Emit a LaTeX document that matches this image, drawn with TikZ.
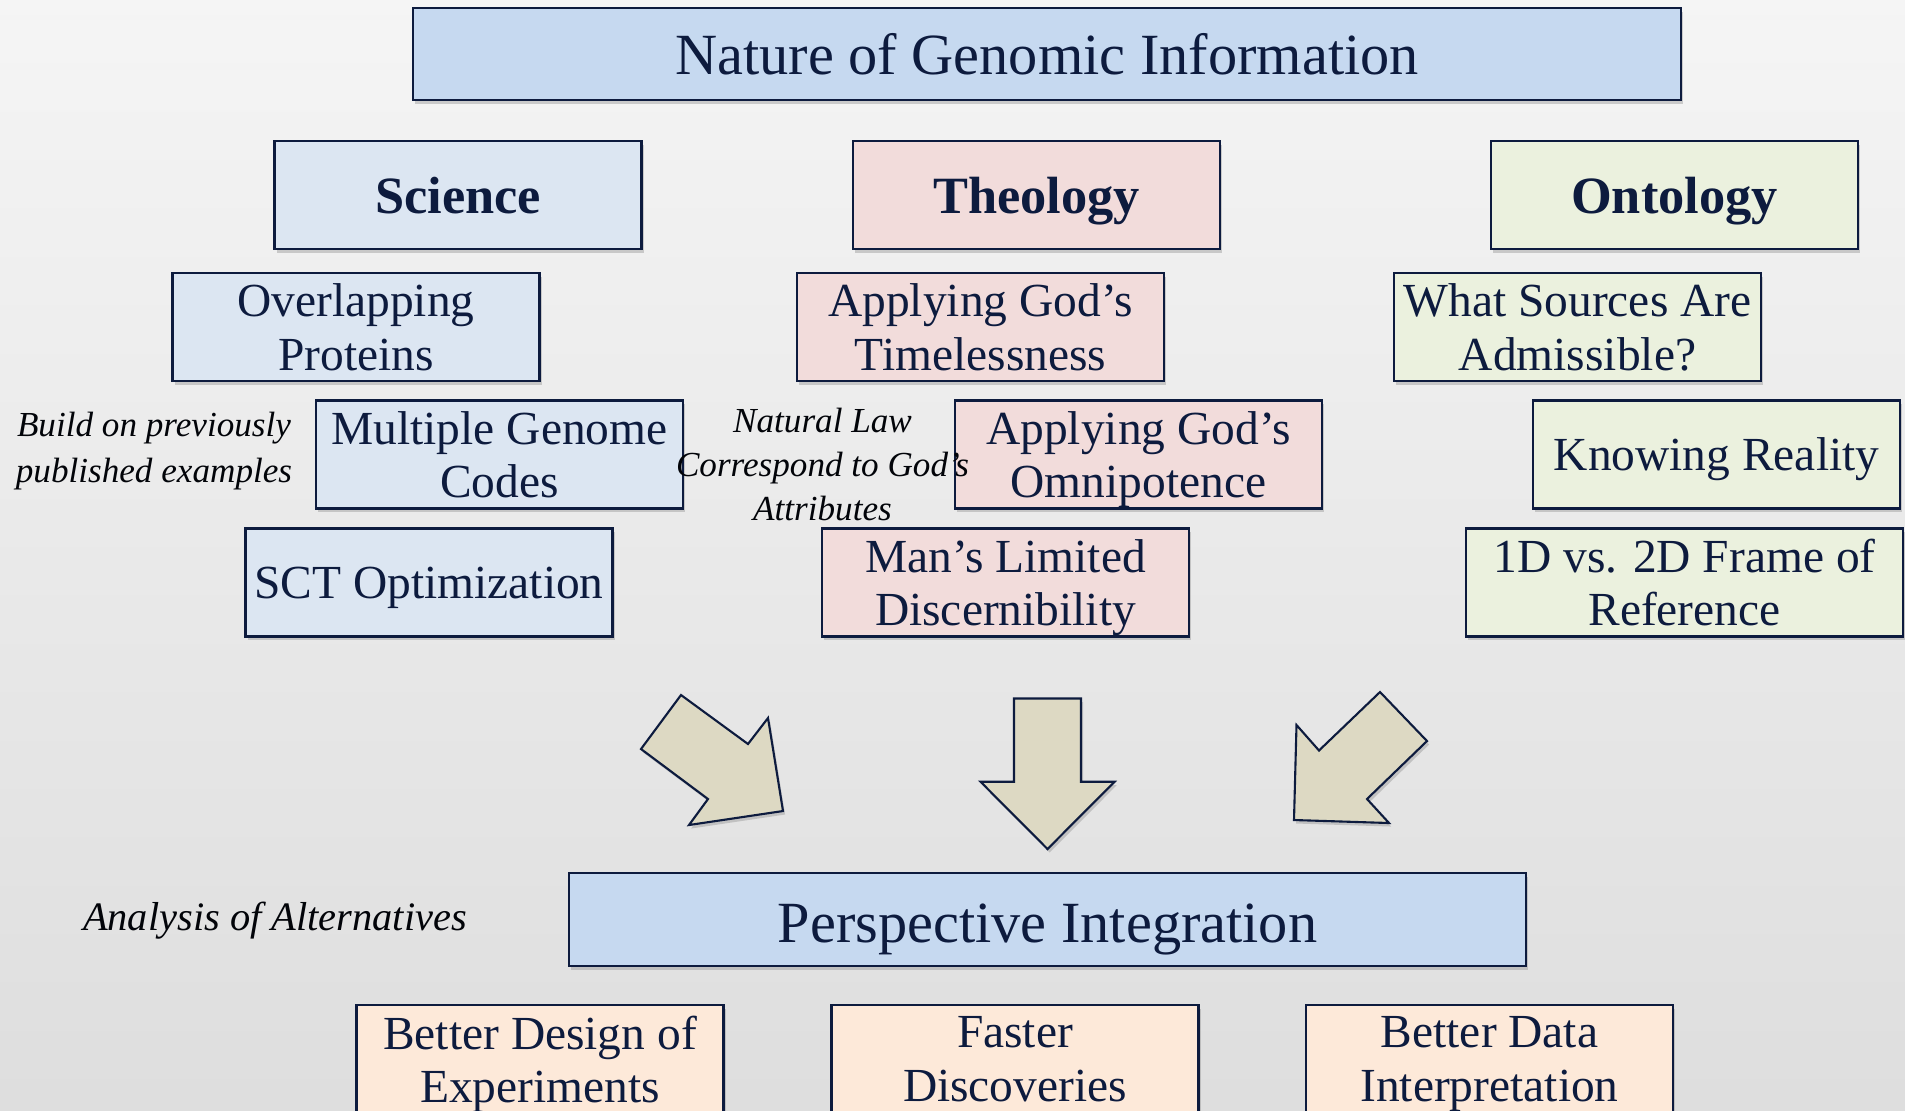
\documentclass[tikz,border=0pt]{standalone}
\usepackage{fontspec}
\setmainfont{Liberation Serif}
\usetikzlibrary{shadows}
\definecolor{navy}{RGB}{13,27,62}
\definecolor{headblue}{RGB}{198,217,240}
\definecolor{sciblue}{RGB}{220,230,242}
\definecolor{theopink}{RGB}{242,220,219}
\definecolor{ontogreen}{RGB}{235,241,222}
\definecolor{outpeach}{RGB}{253,233,217}
\definecolor{arrowtan}{RGB}{221,217,195}

\begin{document}
\begin{tikzpicture}[
  every node/.style={text=navy},
  boxshadow/.style={drop shadow={shadow xshift=0.6pt, shadow yshift=-1pt, opacity=0.35}},
  box/.style={rectangle, draw=navy, line width=0.6pt, align=center, minimum width=3.67cm, minimum height=1.08cm, inner sep=2pt, text depth=0pt, boxshadow, font=\fontsize{13.5}{15.2}\selectfont},
  bigbox/.style={box, fill=headblue, minimum height=0.92cm, font=\fontsize{16.6}{18}\selectfont},
  headbox/.style={box, font=\fontsize{14.9}{16}\selectfont\bfseries},
  scibox/.style={box, fill=sciblue},
  theobox/.style={box, fill=theopink},
  ontobox/.style={box, fill=ontogreen},
  outbox/.style={box, fill=outpeach},
  note/.style={align=center, text=black!85!navy, font=\fontsize{10}{12.5}\selectfont\itshape},
  blockarrow/.style={fill=arrowtan, draw=navy, line width=0.6pt, line join=miter, boxshadow},
]

% ---- page and faded background ----
\useasboundingbox (0,0) rectangle (19.05,-11.10);
\clip (0,0) rectangle (19.05,-11.10);
\shade[top color=black!4, bottom color=black!13] (0,0) rectangle (19.05,-11.10);

% ---- title ----
\node[bigbox, minimum width=12.68cm] (nature) at (10.47,-0.54) {Nature of Genomic Information};

% ---- three perspectives ----
\node[headbox, fill=sciblue] (science) at (4.58,-1.95) {Science};
\node[headbox, fill=theopink] (theology) at (10.365,-1.95) {Theology};
\node[headbox, fill=ontogreen] (ontology) at (16.745,-1.95) {Ontology};

% ---- science items ----
\node[scibox] (overlap) at (3.56,-3.27) {Overlapping\\Proteins};
\node[scibox] (codes) at (4.995,-4.545) {Multiple Genome\\Codes};
\node[scibox] (sct) at (4.29,-5.825) {SCT Optimization};

% ---- theology items ----
\node[theobox] (timeless) at (9.805,-3.27) {Applying God’s\\Timelessness};
\node[theobox] (omnipot) at (11.385,-4.545) {Applying God’s\\Omnipotence};
\node[theobox] (discern) at (10.055,-5.825) {Man’s Limited\\Discernibility};

% ---- ontology items ----
\node[ontobox] (sources) at (15.775,-3.27) {What Sources Are\\Admissible?};
\node[ontobox] (reality) at (17.165,-4.545) {Knowing Reality};
\node[ontobox, minimum width=4.37cm] (frame) at (16.845,-5.825) {1D vs. 2D Frame of\\Reference};

% ---- side notes (drawn over the boxes) ----
\node[note, font=\fontsize{10}{13.1}\selectfont\itshape] (build) at (1.54,-4.51) {Build on previously\\published examples};
\node[note] (natlaw) at (8.225,-4.645) {Natural Law\\Correspond to God’s\\Attributes};
\node[note, text depth=0pt, font=\fontsize{11.5}{13}\selectfont\itshape] (aoa) at (2.75,-9.16) {Analysis of Alternatives};

% ---- block arrows into the integration box ----
\draw[blockarrow] (6.81,-6.95) -- (6.41,-7.49) -- (7.08,-7.99) -- (6.89,-8.25)
  -- (7.83,-8.11) -- (7.68,-7.18) -- (7.48,-7.44) -- cycle;
\draw[blockarrow] (10.14,-6.985) -- (10.81,-6.985) -- (10.81,-7.817) -- (11.146,-7.817)
  -- (10.475,-8.49) -- (9.805,-7.817) -- (10.14,-7.817) -- cycle;
\draw[blockarrow] (13.80,-6.92) -- (14.27,-7.41) -- (13.67,-7.99) -- (13.89,-8.23)
  -- (12.94,-8.20) -- (12.965,-7.25) -- (13.19,-7.505) -- cycle;

% ---- integration and outcomes ----
\node[bigbox, minimum width=9.57cm, minimum height=0.93cm, text height=12.8pt] (integr) at (10.475,-9.195) {Perspective Integration};
\node[outbox] (design) at (5.40,-10.59) {Better Design of\\Experiments};
\node[outbox] (faster) at (10.15,-10.59) {Faster\\Discoveries};
\node[outbox] (interp) at (14.895,-10.59) {Better Data\\Interpretation};

\end{tikzpicture}
\end{document}
